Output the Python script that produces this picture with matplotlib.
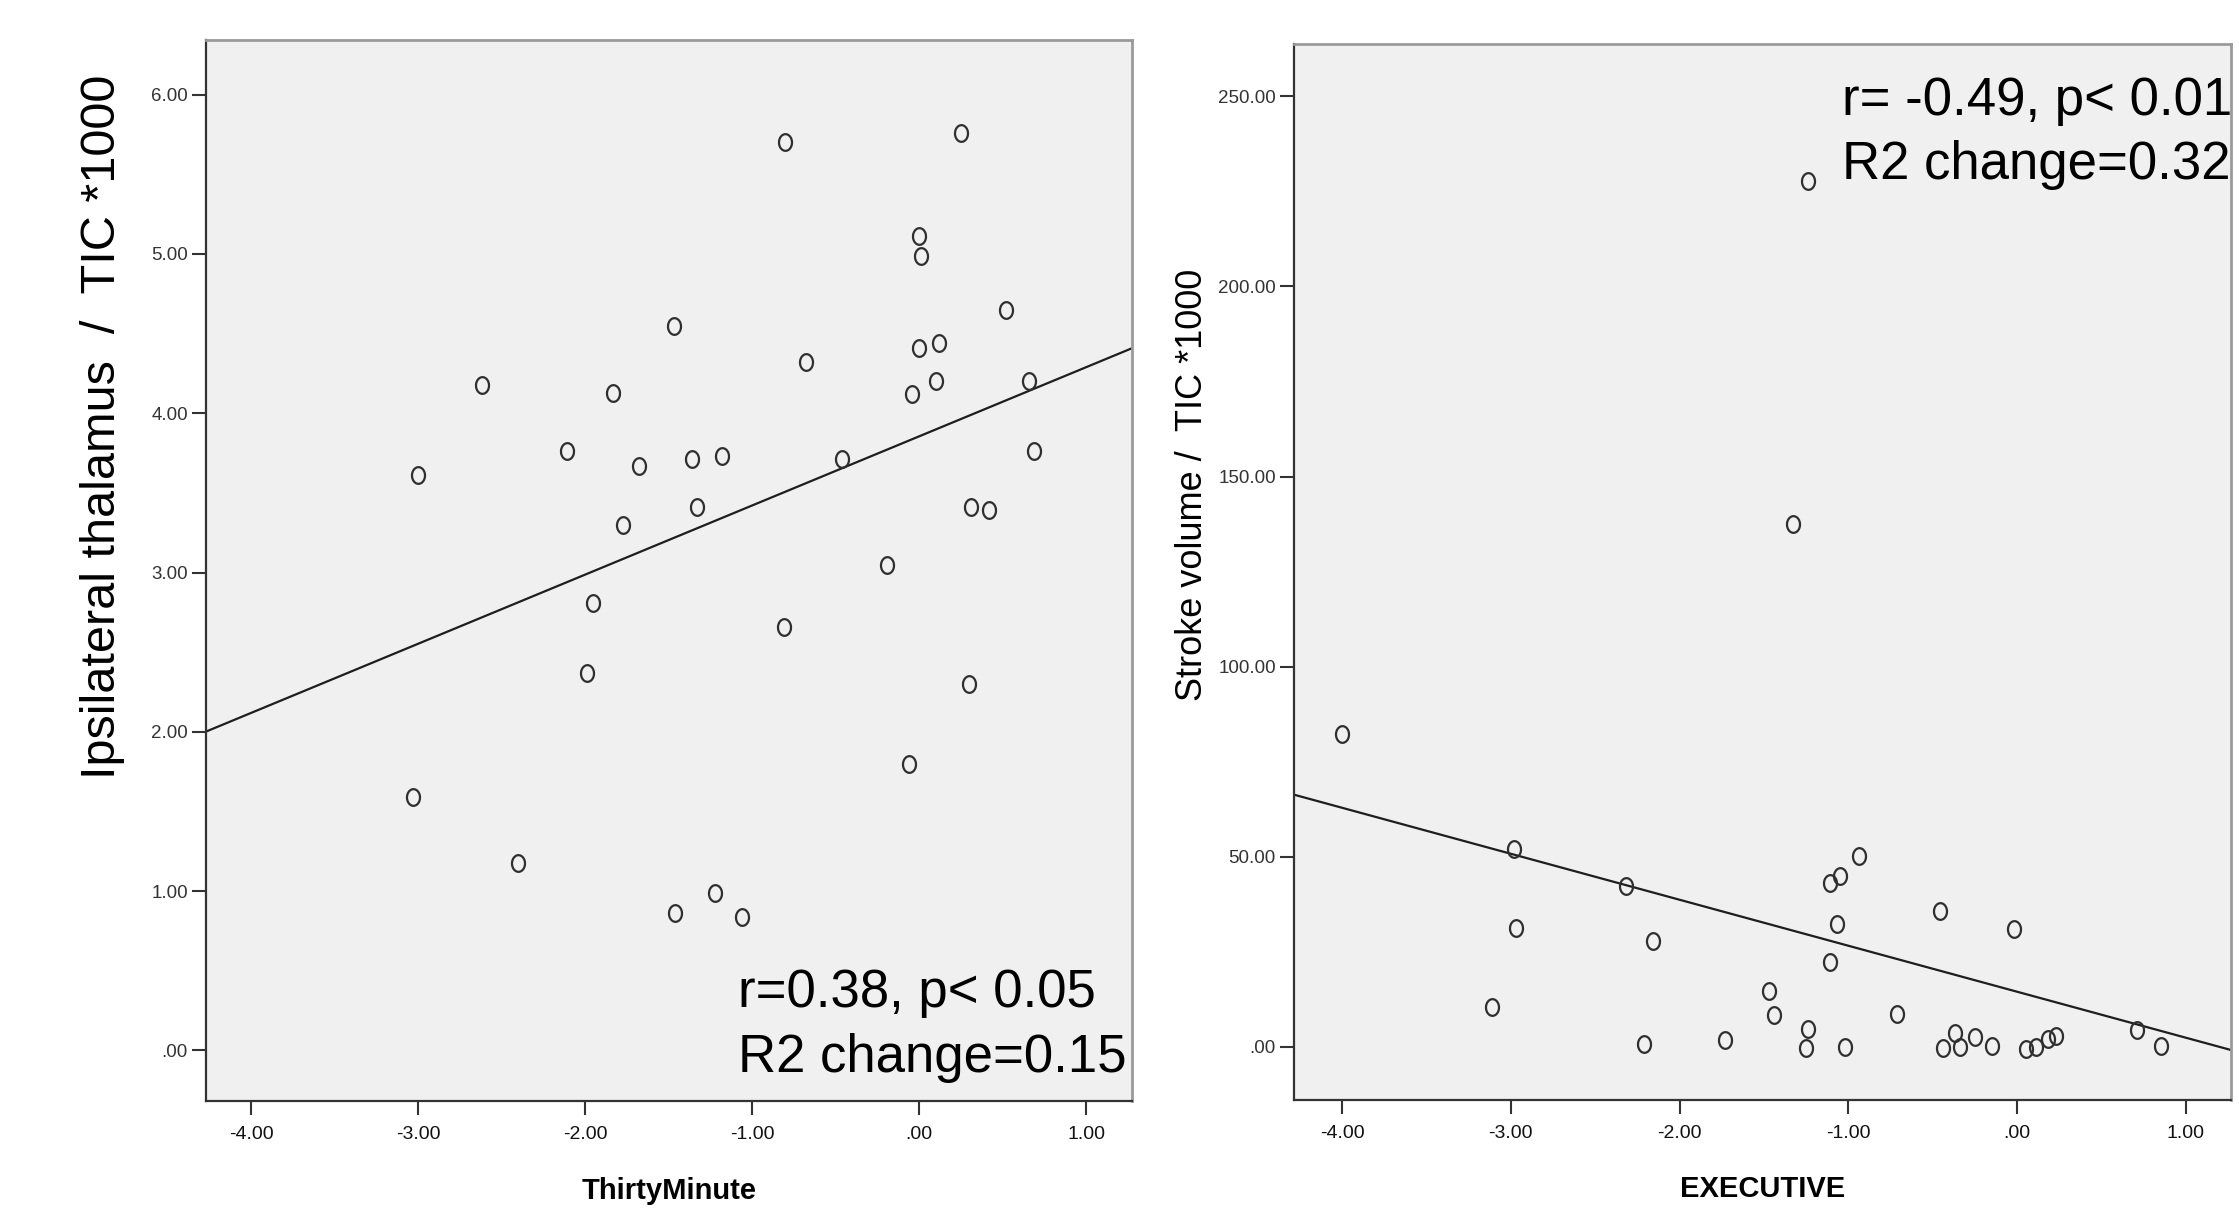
import numpy as np
import matplotlib
matplotlib.use("Agg")
import matplotlib.pyplot as plt
from matplotlib.path import Path
from matplotlib import font_manager

# ---------------- data ----------------
thirty_x = [-3.00, -2.62, -2.11, -1.83, -1.68, -1.77, -1.47, -1.36, -1.18, -1.33,
            -0.80, 0.25, 0.00, 0.01, 0.52, 0.00, 0.12, -0.68, 0.10, -0.04,
            0.66, -0.46, 0.69, 0.31, 0.42, -0.19, -1.95, -1.99, -3.03, -2.40,
            -1.46, -1.22, -1.06, -0.81, 0.30, -0.06]
thal_y = [3.61, 4.18, 3.76, 4.13, 3.67, 3.30, 4.55, 3.71, 3.73, 3.41,
          5.70, 5.76, 5.11, 4.99, 4.65, 4.41, 4.44, 4.32, 4.20, 4.12,
          4.20, 3.71, 3.76, 3.41, 3.39, 3.05, 2.81, 2.37, 1.59, 1.18,
          0.86, 0.99, 0.84, 2.66, 2.30, 1.80]
left_fit = (3.855, 0.434)          # intercept, slope of drawn fit line

exec_x = [-4.00, -1.24, -1.33, -2.98, -2.32, -2.97, -2.16, -3.11, -2.21, -1.73,
          -0.94, -1.05, -1.11, -1.07, -1.11, -1.47, -1.44, -1.24, -1.25, -1.02,
          -0.71, -0.46, -0.02, -0.44, -0.37, -0.34, -0.25, -0.15, 0.05, 0.11,
          0.18, 0.23, 0.71, 0.85]
stroke_y = [82.2, 227.7, 137.5, 51.9, 42.3, 31.3, 27.8, 10.5, 0.6, 1.7,
            50.1, 45.0, 43.1, 32.4, 22.3, 14.7, 8.3, 4.6, -0.3, 0.0,
            8.7, 35.7, 30.9, -0.3, 3.5, 0.0, 2.6, 0.2, -0.5, -0.2,
            2.0, 2.8, 4.3, 0.2]
right_fit = (14.45, -12.1)

xticks = [-4.0, -3.0, -2.0, -1.0, 0.0, 1.0]
xtick_labels = ["-4.00", "-3.00", "-2.00", "-1.00", ".00", "1.00"]
left_yticks = [0, 1, 2, 3, 4, 5, 6]
left_ytick_labels = [".00", "1.00", "2.00", "3.00", "4.00", "5.00", "6.00"]
right_yticks = [0, 50, 100, 150, 200, 250]
right_ytick_labels = [".00", "50.00", "100.00", "150.00", "200.00", "250.00"]

left_xlabel = "ThirtyMinute"
right_xlabel = "EXECUTIVE"
left_ylabel = "Ipsilateral thalamus  /  TIC *1000"
right_ylabel = "Stroke volume /  TIC *1000"
left_annot = ["r=0.38, p< 0.05", "R2 change=0.15"]
right_annot = ["r= -0.49, p< 0.01", "R2 change=0.32"]

# ---------------- style ----------------
names = {f.name for f in font_manager.fontManager.ttflist}
narrow = "Liberation Sans Narrow" if "Liberation Sans Narrow" in names else None
main_font = ["Liberation Sans", "DejaVu Sans"]
narrow_font = [narrow, "Liberation Sans"] if narrow else main_font
plt.rcParams["font.family"] = main_font

W, H = 2239, 1216
fig = plt.figure(figsize=(W / 100, H / 100), dpi=100)
fig.patch.set_facecolor("white")

theta = np.linspace(0, 2 * np.pi, 80)
ell = Path(np.column_stack([0.78 * np.cos(theta), np.sin(theta)]), closed=True)

def px_axes(l, r, t, b):
    return [l / W, 1 - b / H, (r - l) / W, (b - t) / H]

def style(ax, xlim, ylim, yticks, ylabels):
    ax.set_facecolor("#f0f0f0")
    ax.set_xlim(*xlim)
    ax.set_ylim(*ylim)
    ax.set_xticks(xticks)
    ax.set_xticklabels(xtick_labels, family=narrow_font,
                       fontsize=16 if narrow else 14, color="#111111")
    ax.set_yticks(yticks)
    ax.set_yticklabels(ylabels, fontsize=13.5, color="#333333")
    ax.tick_params(axis="both", direction="out", length=10, width=1.5,
                   color="#333333")
    ax.tick_params(axis="x", pad=8)
    ax.tick_params(axis="y", pad=3)
    for s in ("left", "bottom"):
        ax.spines[s].set_color("#333333")
        ax.spines[s].set_linewidth(1.6)
    for s in ("top", "right"):
        ax.spines[s].set_color("#9a9a9a")
        ax.spines[s].set_linewidth(2.0)

ANN = 38

# ---- left panel ----
ax1 = fig.add_axes(px_axes(206, 1132, 40, 1101))
style(ax1, (-4.27, 1.275), (-0.317, 6.343), left_yticks, left_ytick_labels)
xs = np.array(ax1.get_xlim())
ax1.plot(xs, left_fit[0] + left_fit[1] * xs, color="#1e1e1e", lw=1.6, zorder=2)
ax1.plot(thirty_x, thal_y, ls="none", marker=ell, ms=12, mfc="none",
         mec="#2e2e2e", mew=1.6, zorder=3)
ax1.set_xlabel(left_xlabel, family=narrow_font, fontweight="bold",
               fontsize=24 if narrow else 21, va="center")
ax1.xaxis.set_label_coords(0.5, -0.085)
ax1.set_ylabel(left_ylabel, fontsize=35, va="center", ha="center")
ax1.yaxis.set_label_coords(-0.112, 0.635)
ax1.text(738 / W, 1 - 993 / H, left_annot[0], transform=fig.transFigure,
         fontsize=ANN, ha="left", va="center")
ax1.text(738 / W, 1 - 1058 / H, left_annot[1], transform=fig.transFigure,
         fontsize=ANN, ha="left", va="center")

# ---- right panel ----
ax2 = fig.add_axes(px_axes(1294, 2231, 44, 1099.5))
style(ax2, (-4.285, 1.267), (-13.9, 263.8), right_yticks, right_ytick_labels)
xs = np.array(ax2.get_xlim())
ax2.plot(xs, right_fit[0] + right_fit[1] * xs, color="#1e1e1e", lw=1.6, zorder=2)
ax2.plot(exec_x, stroke_y, ls="none", marker=ell, ms=12, mfc="none",
         mec="#2e2e2e", mew=1.6, zorder=3)
ax2.set_xlabel(right_xlabel, family=narrow_font, fontweight="bold",
               fontsize=24 if narrow else 21, va="center")
ax2.xaxis.set_label_coords(0.5, -0.085)
ax2.set_ylabel(right_ylabel, fontsize=26, va="center", ha="center")
ax2.yaxis.set_label_coords(-0.108, 0.582)
ax2.text(1842 / W, 1 - 101 / H, right_annot[0], transform=fig.transFigure,
         fontsize=ANN, ha="left", va="center")
ax2.text(1842 / W, 1 - 165 / H, right_annot[1], transform=fig.transFigure,
         fontsize=ANN, ha="left", va="center")

fig.savefig("out.png", dpi=100, facecolor="white")
